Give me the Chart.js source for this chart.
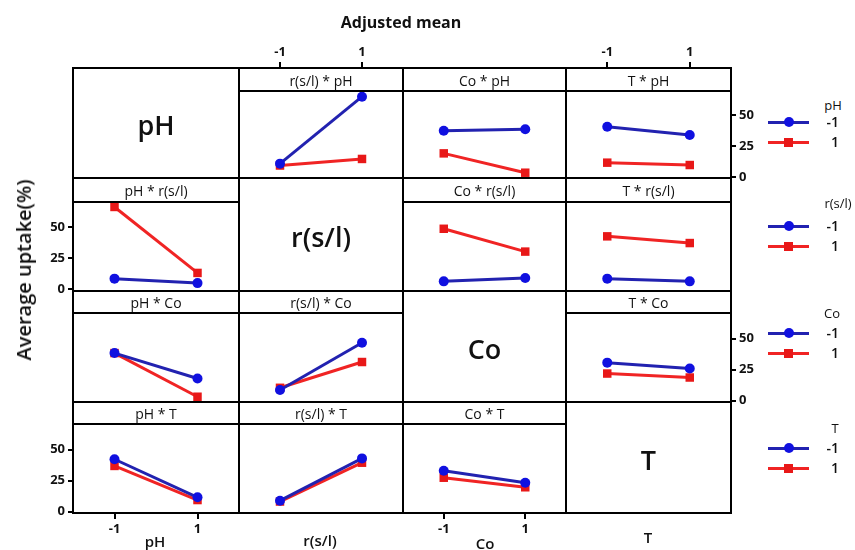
<!DOCTYPE html>
<html>
<head>
<meta charset="utf-8">
<script src="https://cdn.jsdelivr.net/npm/chart.js@4.4.1/dist/chart.umd.min.js"></script>
<style>
    body { margin: 0; background: #fff; }
    #fig { position: relative; width: 855px; height: 550px; overflow: hidden;
           font-family: "Open Sans", "Noto Sans", sans-serif; color: #111; }
    #fig canvas { position: absolute; }
    .txt { position: absolute; white-space: nowrap; transform: translate(-50%, -50%); line-height: 1; }
    .rule { position: absolute; background: #000; }
    .leg-line { position: absolute; height: 3px; }
    .leg-dot { position: absolute; width: 10px; height: 10px; border-radius: 50%; background: #1010e0; }
    .leg-sq { position: absolute; width: 9px; height: 9px; background: #e81818; }
</style>
</head>
<body>
<div id="fig"></div>
<script>
// factors and coded levels
const factors = ['pH', 'r(s/l)', 'Co', 'T'];
const levels = [-1, 1];
const xTicks = [-1, 1];
const yTicks = [0, 25, 50];

// row pH (lines), x = r(s/l), Co, T
const pH_m1 = [[11, 65], [37.6, 38.7], [40.8, 34.1]];
const pH_p1 = [[9.5, 14.8], [19.3, 3.7], [11.8, 9.9]];
// row r(s/l), x = pH, Co, T
const rsl_m1 = [[8.2, 4.6], [6, 8.7], [8.2, 6]];
const rsl_p1 = [[66, 12.8], [48.4, 30], [42.3, 36.9]];
// row Co, x = pH, r(s/l), T
const co_m1 = [[38.4, 17.9], [8.6, 46.7], [30.7, 25.9]];
const co_p1 = [[38.4, 3.2], [10.4, 31.2], [21.9, 18.7]];
// row T, x = pH, r(s/l), Co
const t_m1 = [[42.3, 11.6], [8.9, 43], [33, 23.4]];
const t_p1 = [[36.9, 9.4], [8.2, 39.5], [27.4, 19.7]];

const rowMinus = [pH_m1, rsl_m1, co_m1, t_m1];
const rowPlus = [pH_p1, rsl_p1, co_p1, t_p1];

// layout
const X = [73, 239, 403, 566, 731];
const Y = [68, 178, 291, 402, 513];
const HB = [91, 202, 313, 424];
const Y0 = [177.3, 288.8, 400.7, 511.7];
const PPU = 1.24;
const M = 40;

const BLUE = '#2222b0', BLUE_PT = '#1010e0';
const RED = '#f02424', RED_PT = '#e81818';
const tickFont = { family: '"Open Sans", "Noto Sans", sans-serif', size: 13, weight: 'bold' };

const fig = document.getElementById('fig');

function text(str, x, y, css) {
    const d = document.createElement('div');
    d.className = 'txt';
    d.textContent = str;
    d.style.left = x + 'px';
    d.style.top = y + 'px';
    Object.assign(d.style, css || {});
    fig.appendChild(d);
    return d;
}

function rule(x, y, w, h) {
    const d = document.createElement('div');
    d.className = 'rule';
    d.style.left = x + 'px';
    d.style.top = y + 'px';
    d.style.width = w + 'px';
    d.style.height = h + 'px';
    fig.appendChild(d);
}

function panel(r, c) {
    const k = c < r ? c : c - 1;
    const blue = rowMinus[r][k];
    const red = rowPlus[r][k];
    const w = X[c + 1] - X[c];
    const h = Y[r + 1] - Y[r];
    const showTop = r === 0 && (c === 1 || c === 3);
    const showBottom = r === 3 && (c === 0 || c === 2);
    const showLeft = c === 0 && (r === 1 || r === 3);
    const showRight = c === 3 && (r === 0 || r === 2);

    const cv = document.createElement('canvas');
    cv.width = w + 2 * M;
    cv.height = h + 2 * M;
    cv.style.left = (X[c] - M) + 'px';
    cv.style.top = (Y[r] - M) + 'px';
    fig.appendChild(cv);

    new Chart(cv, {
        type: 'line',
        data: {
            datasets: [
                {
                    data: levels.map((x, i) => ({ x, y: blue[i] })),
                    borderColor: BLUE, backgroundColor: BLUE_PT, borderWidth: 3,
                    pointStyle: 'circle', pointRadius: 5, pointBorderWidth: 0
                },
                {
                    data: levels.map((x, i) => ({ x, y: red[i] })),
                    borderColor: RED, backgroundColor: RED_PT, borderWidth: 3,
                    pointStyle: 'rect', pointRadius: 6, pointBorderWidth: 0
                }
            ]
        },
        options: {
            responsive: false,
            animation: false,
            devicePixelRatio: 1,
            layout: {
                padding: {
                    left: showLeft ? 0 : M, right: showRight ? 0 : M,
                    top: showTop ? 0 : M, bottom: showBottom ? 0 : M
                }
            },
            plugins: { legend: { display: false }, tooltip: { enabled: false } },
            scales: {
                x: {
                    type: 'linear',
                    position: showTop ? 'top' : 'bottom',
                    display: showTop || showBottom,
                    min: -2, max: 2,
                    afterBuildTicks: s => { s.ticks = xTicks.map(v => ({ value: v })); },
                    afterFit: (showTop || showBottom) ? (s => { s.height = M; }) : undefined,
                    grid: { drawOnChartArea: false, tickLength: 6, tickColor: '#000', lineWidth: 2 },
                    border: { display: false },
                    ticks: { color: '#111', font: tickFont, padding: 2, maxRotation: 0,
                             callback: v => String(v) }
                },
                y: {
                    type: 'linear',
                    position: showRight ? 'right' : 'left',
                    display: showLeft || showRight,
                    min: -(Y[r + 1] - Y0[r]) / PPU,
                    max: (Y0[r] - Y[r]) / PPU,
                    afterBuildTicks: s => { s.ticks = yTicks.map(v => ({ value: v })); },
                    afterFit: (showLeft || showRight) ? (s => { s.width = M; }) : undefined,
                    grid: { drawOnChartArea: false, tickLength: 5, tickColor: '#000', lineWidth: 2 },
                    border: { display: false },
                    ticks: { color: '#111', font: tickFont, padding: 3 }
                }
            }
        }
    });
}

// charts
for (let r = 0; r < 4; r++) {
    for (let c = 0; c < 4; c++) {
        if (r !== c) panel(r, c);
    }
}

// frame
X.forEach(x => rule(x - 1, Y[0] - 1, 2, Y[4] - Y[0] + 2));
Y.forEach(y => rule(X[0] - 1, y - 1, X[4] - X[0] + 2, 2));
for (let r = 0; r < 4; r++) {
    for (let c = 0; c < 4; c++) {
        const cx = (X[c] + X[c + 1]) / 2;
        if (r === c) {
            text(factors[r], cx, (Y[r] + Y[r + 1]) / 2 + 1,
                 { fontSize: '27px', fontWeight: '600' });
        } else {
            rule(X[c] - 1, HB[r] - 1, X[c + 1] - X[c] + 2, 2);
            text(factors[c] + ' * ' + factors[r], cx, (Y[r] + HB[r]) / 2 + 1,
                 { fontSize: '14px' });
        }
    }
}

// titles
text('Adjusted mean', 401, 22, { fontSize: '16px', fontWeight: 'bold' });
text('Average uptake(%)', 24, 270, { fontSize: '20px', fontWeight: '600',
     transform: 'translate(-50%, -50%) rotate(-90deg)' });
const bottomX = [155, 320, 485, 648];
const bottomY = [541, 540, 543, 537];
factors.forEach((f, i) => text(f, bottomX[i], bottomY[i], { fontSize: '15px', fontWeight: '600' }));

// legends, one per row factor
const legTitleX = [833, 838, 832, 835];
const legTitleY = [105, 203, 313, 428];
const legItemY = [[122, 142], [226, 246], [333, 353], [448, 468]];
factors.forEach((f, i) => {
    text(f, legTitleX[i], legTitleY[i], { fontSize: '13px' });
    levels.forEach((lv, j) => {
        const y = legItemY[i][j];
        const ln = document.createElement('div');
        ln.className = 'leg-line';
        ln.style.left = '768px';
        ln.style.top = (y - 1.5) + 'px';
        ln.style.width = '41px';
        ln.style.background = j === 0 ? BLUE : RED;
        fig.appendChild(ln);
        const mk = document.createElement('div');
        mk.className = j === 0 ? 'leg-dot' : 'leg-sq';
        mk.style.left = '784px';
        mk.style.top = (y - (j === 0 ? 5 : 4.5)) + 'px';
        fig.appendChild(mk);
        text(String(lv), 839, y, { fontSize: '14px', fontWeight: '600',
             transform: 'translate(-100%, -50%)' });
    });
});
</script>
</body>
</html>
